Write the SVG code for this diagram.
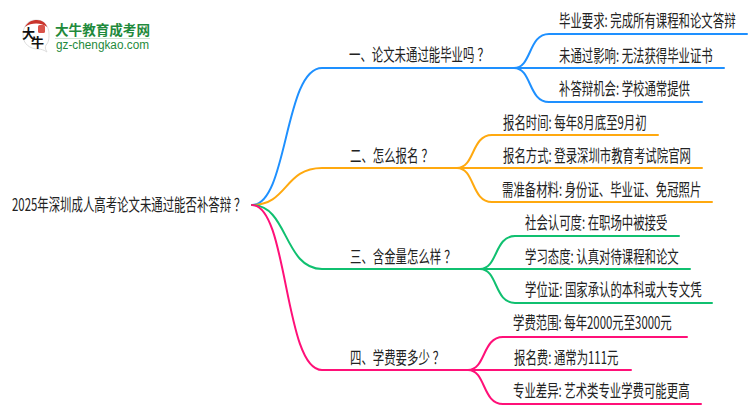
<svg xmlns="http://www.w3.org/2000/svg" width="750" height="410" viewBox="0 0 750 410">
<style>
text{font-family:"Noto Sans CJK SC","Noto Sans",sans-serif;font-size:11.4px;fill:#222;font-weight:400}
.l{fill:none;stroke-width:2;stroke-linecap:round}
.b{stroke:#1e90ff}.o{stroke:#ffa90f}.g{stroke:#10c070}.p{stroke:#ff1078}
</style>
<rect width="750" height="410" fill="#fff"/>
<g id="logo">
<path d="M36 20C27 20 23 27 23 35C23 44 30 49 38 49C41 49 44 50 47 52C45 49 45 47 46 45C49 42 49 38 49 34C49 26 44 20 36 20Z" fill="#fff" stroke="#ddd" stroke-width="1"/>
<path d="M25 27C28 21 33 20 37 20C42 20 46 23 47 27C42 23 32 22 25 27Z" fill="#c9342c"/>
<rect x="38" y="25" width="7" height="8" rx="1.500" fill="#d9534a"/>
<text x="22" y="38" style="font-size:13px;font-weight:700;fill:#111">大</text>
<text x="31" y="47" style="font-size:13px;font-weight:700;fill:#111">牛</text>
<text x="55" y="35" textLength="95" lengthAdjust="spacingAndGlyphs" style="font-size:13.6px;font-weight:700;fill:#1f8a3c">大牛教育成考网</text>
<rect x="55" y="38" width="95" height="1" fill="#cfe3d2"/>
<text x="56" y="49" textLength="93" lengthAdjust="spacingAndGlyphs" style="font-family:'Liberation Sans',sans-serif;font-size:12px;fill:#1f8a3c">gz-chengkao.com</text>
</g>
<g id="connectors">
<path class="l b" d="M252 205C288 205 284 68 322 68H514"/>
<path class="l b" d="M514 68C532 68 528 34 549 34H747M514 68H724M514 68C532 68 528 102 549 102H702"/>
<path class="l o" d="M252 205C288 205 284 168 322 168H457"/>
<path class="l o" d="M457 168C475 168 471 135 492 135H658M457 168H702M457 168C475 168 471 202 492 202H712"/>
<path class="l g" d="M252 205C288 205 284 269 322 269H480"/>
<path class="l g" d="M480 269C498 269 494 236 515 236H679M480 269H690M480 269C498 269 494 303 515 303H712"/>
<path class="l p" d="M252 205C288 205 284 370 322 370H468"/>
<path class="l p" d="M468 370C486 370 482 337 503 337H687M468 370H631M468 370C486 370 482 404 503 404H701"/>
</g>
<g id="root"><text transform="translate(12 211) scale(1 1.5)" dx="0 0 0 0 0 0 0 0 0 0 0 0 0 0 0 0 0 0 0 0 0 3">2025年深圳成人高考论文未通过能否补答辩？</text></g>
<g id="n1"><text transform="translate(349 61) scale(1 1.5)" dx="0 0 0 0 0 0 0 0 0 0 0 3">一、论文未通过能毕业吗？</text></g>
<g id="n1a"><text transform="translate(559 27) scale(1 1.5)">毕业要求: 完成所有课程和论文答辩</text></g>
<g id="n1b"><text transform="translate(559 62) scale(1 1.5)">未通过影响: 无法获得毕业证书</text></g>
<g id="n1c"><text transform="translate(559 95) scale(1 1.5)">补答辩机会: 学校通常提供</text></g>
<g id="n2"><text transform="translate(350 162) scale(1 1.5)" dx="0 0 0 0 0 0 3">二、怎么报名？</text></g>
<g id="n2a"><text transform="translate(503 129) scale(1 1.5)">报名时间: 每年8月底至9月初</text></g>
<g id="n2b"><text transform="translate(503 162) scale(1 1.5)">报名方式: 登录深圳市教育考试院官网</text></g>
<g id="n2c"><text transform="translate(502 196) scale(1 1.5)">需准备材料: 身份证、毕业证、免冠照片</text></g>
<g id="n3"><text transform="translate(350 263) scale(1 1.5)" dx="0 0 0 0 0 0 0 0 3">三、含金量怎么样？</text></g>
<g id="n3a"><text transform="translate(525 229) scale(1 1.5)">社会认可度: 在职场中被接受</text></g>
<g id="n3b"><text transform="translate(525 263) scale(1 1.5)">学习态度: 认真对待课程和论文</text></g>
<g id="n3c"><text transform="translate(525 296) scale(1 1.5)">学位证: 国家承认的本科或大专文凭</text></g>
<g id="n4"><text transform="translate(350 364) scale(1 1.5)" dx="0 0 0 0 0 0 0 3">四、学费要多少？</text></g>
<g id="n4a"><text transform="translate(513 329) scale(1 1.5)">学费范围: 每年2000元至3000元</text></g>
<g id="n4b"><text transform="translate(514 364) scale(1 1.5)">报名费: 通常为111元</text></g>
<g id="n4c"><text transform="translate(513 397) scale(1 1.5)">专业差异: 艺术类专业学费可能更高</text></g>
</svg>
